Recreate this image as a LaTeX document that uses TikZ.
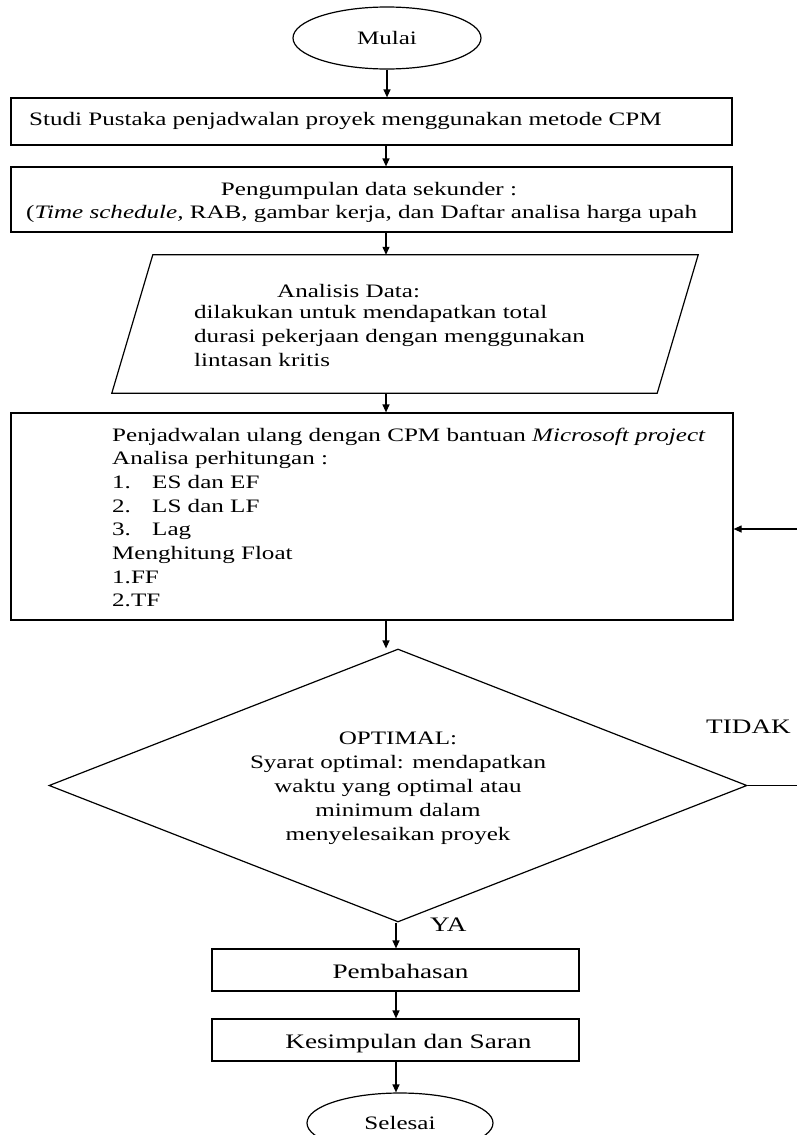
\documentclass[tikz,border=0pt]{standalone}
\usepackage{fontspec}
\setmainfont{Liberation Serif}[FakeStretch=1.32]
\usetikzlibrary{shapes.geometric,arrows.meta}
\begin{document}
\begin{tikzpicture}[x=1pt,y=-1pt,
  every node/.style={font=\fontsize{19}{23}\selectfont},
  big/.style={font=\fontsize{20.6}{25}\selectfont},
  shp/.style={draw, line width=1.2pt, inner sep=0pt},
  box/.style={shp, rectangle},
  term/.style={shp, ellipse},
  txt/.style={inner sep=0pt, anchor=base west},
  ctxt/.style={inner sep=0pt, anchor=base},
  arr/.style={line width=1.2pt, -{Triangle[length=8pt,width=7pt]}}
]
\useasboundingbox (0,0) rectangle (796,1135);
\coordinate (ax) at (386,0);
\coordinate (bx) at (396,0);
% start
\node[term, minimum width=188pt, minimum height=62pt] (mulai) at (387,38) {Mulai};
% studi
\node[box, minimum width=721pt, minimum height=47pt] (studi) at (371.5,121.5) {};
\node[txt] (tstudi) at (29,125) {Studi Pustaka penjadwalan proyek menggunakan metode CPM};
% pengumpulan
\node[box, minimum width=721pt, minimum height=65pt] (peng) at (371.5,199.5) {};
\node[ctxt] (tpeng1) at (369,195) {Pengumpulan data sekunder :};
\node[txt] (tpeng2) at (26,218) {(\textit{Time schedule,} RAB, gambar kerja, dan Daftar analisa harga upah};
% analisis (parallelogram)
\node[minimum width=586pt, minimum height=138pt, inner sep=0pt] (anal) at (405,324) {};
\draw[line width=1.2pt] ([xshift=41pt]anal.north west) -- (anal.north east) -- ([xshift=-41pt]anal.south east) -- (anal.south west) -- cycle;
\node[txt] (tan1) at (277,297) {Analisis Data:};
\node[txt] (tan2) at (194,318) {dilakukan untuk mendapatkan total};
\node[txt] (tan3) at (194,342) {durasi pekerjaan dengan menggunakan};
\node[txt] (tan4) at (194,366) {lintasan kritis};
% schedule
\node[box, minimum width=722pt, minimum height=207pt] (sched) at (372,516.5) {};
\node[txt] (ts1) at (112,441) {Penjadwalan ulang dengan CPM bantuan \textit{Microsoft project}};
\node[txt] (ts2) at (112,464.7) {Analisa perhitungan :};
\node[txt] (ts3a) at (112,488.4) {1.};
\node[txt] (ts3b) at (152,488.4) {ES dan EF};
\node[txt] (ts4a) at (112,512.1) {2.};
\node[txt] (ts4b) at (152,512.1) {LS dan LF};
\node[txt] (ts5a) at (112,535.8) {3.};
\node[txt] (ts5b) at (152,535.8) {Lag};
\node[txt] (ts6) at (112,559.5) {Menghitung Float};
\node[txt] (ts7) at (112,583.2) {1.FF};
\node[txt] (ts8) at (112,606.9) {2.TF};
% decision
\node[shp, diamond, minimum width=698pt, minimum height=273pt] (dec) at (398,785.5) {};
\node[ctxt] (td1) at (398,744) {OPTIMAL:};
\node[ctxt] (td2) at (398,768) {Syarat optimal: mendapatkan};
\node[ctxt] (td3) at (398,792) {waktu yang optimal atau};
\node[ctxt] (td4) at (398,816) {minimum dalam};
\node[ctxt] (td5) at (398,840) {menyelesaikan proyek};
\node[txt, big] (tidak) at (706,733) {TIDAK};
\node[txt, big] (ya) at (430,931) {YA};
% end boxes
\node[box, minimum width=367pt, minimum height=42pt] (pemb) at (395.5,970) {};
\node[ctxt, big] (tpemb) at (400.5,978) {Pembahasan};
\node[box, minimum width=367pt, minimum height=42pt] (kesim) at (395.5,1040) {};
\node[ctxt, big] (tkesim) at (408.5,1048.5) {Kesimpulan dan Saran};
\node[term, minimum width=186pt, minimum height=60pt] (sel) at (400,1123) {Selesai};
% connectors
\draw[arr] (mulai.south) -- (mulai.south |- studi.north);
\draw[arr] (ax |- studi.south) -- (ax |- peng.north);
\draw[arr] (ax |- peng.south) -- (ax |- anal.north);
\draw[arr] (ax |- anal.south) -- (ax |- sched.north);
\draw[arr] (ax |- sched.south) -- (ax |- dec.north);
\draw[arr] (bx |- dec.south) -- (bx |- pemb.north);
\draw[arr] (bx |- pemb.south) -- (bx |- kesim.north);
\draw[arr] (bx |- kesim.south) -- (bx |- sel.north);
\coordinate (lp) at (802,529);
\draw[arr] (dec.east) -- (dec.east -| lp) -- (lp) -- (sched.east |- lp);
\end{tikzpicture}
\end{document}
